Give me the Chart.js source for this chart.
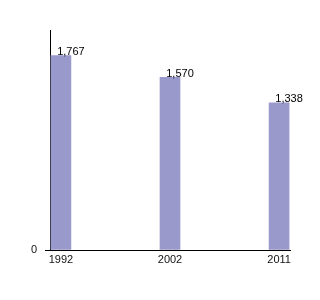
<!DOCTYPE html>
<html>
<head>
<meta charset="utf-8">
<script src="https://cdn.jsdelivr.net/npm/chart.js@4/dist/chart.umd.min.js"></script>
<style>
  html, body { margin: 0; padding: 0; background: #fff; }
  #wrap { width: 320px; height: 300px; }
</style>
</head>
<body>
<div id="wrap"><canvas id="myChart"></canvas></div>
<script>
// chart data
const years = ['1992', '2002', '2011'];
const values = [1767, 1570, 1338];

Chart.defaults.font.family = '"Liberation Sans", Arial, sans-serif';
Chart.defaults.font.size = 11;
Chart.defaults.color = '#111';

// value labels drawn above each bar, centred on the bar's right edge
const barLabels = {
  id: 'barLabels',
  afterDatasetsDraw(chart) {
    const ctx = chart.ctx;
    const meta = chart.getDatasetMeta(0);
    ctx.save();
    ctx.font = '11px "Liberation Sans", Arial, sans-serif';
    ctx.fillStyle = '#000';
    ctx.textAlign = 'center';
    ctx.textBaseline = 'bottom';
    meta.data.forEach((bar, i) => {
      ctx.fillText(values[i].toLocaleString('en-US'), bar.x + bar.width / 2, bar.y + 2);
    });
    ctx.restore();
  }
};

const config = {
  type: 'bar',
  data: {
    datasets: [{
      data: values.map((v, i) => ({ x: i, y: v })),
      backgroundColor: '#9999cc',
      borderWidth: 0,
      barThickness: 20
    }]
  },
  options: {
    responsive: true,
    maintainAspectRatio: false,
    animation: false,
    layout: { padding: { left: 0, top: 30, right: 30, bottom: 0 } },
    plugins: {
      legend: { display: false },
      tooltip: { enabled: false }
    },
    scales: {
      x: {
        type: 'linear',
        offset: false,
        min: -0.1,
        max: 2.1,
        grid: { display: false, drawTicks: false },
        border: { display: true, color: '#000', width: 1 },
        afterBuildTicks: (scale) => { scale.ticks = years.map((y, i) => ({ value: i })); },
        afterFit: (scale) => { scale.height = 50; },
        ticks: {
          padding: 3,
          maxRotation: 0,
          callback: (v) => years[v]
        }
      },
      y: {
        min: 0,
        max: 2000,
        grid: { drawOnChartArea: false, tickLength: 5, color: '#000' },
        border: { display: true, color: '#000', width: 1 },
        afterBuildTicks: (scale) => { scale.ticks = [{ value: 0 }]; },
        afterFit: (scale) => { scale.width = 50; },
        ticks: { padding: 8 }
      }
    }
  },
  plugins: [barLabels]
};

let ctx = document.getElementById('myChart').getContext('2d');
let myChart = new Chart(ctx, config);
</script>
</body>
</html>
